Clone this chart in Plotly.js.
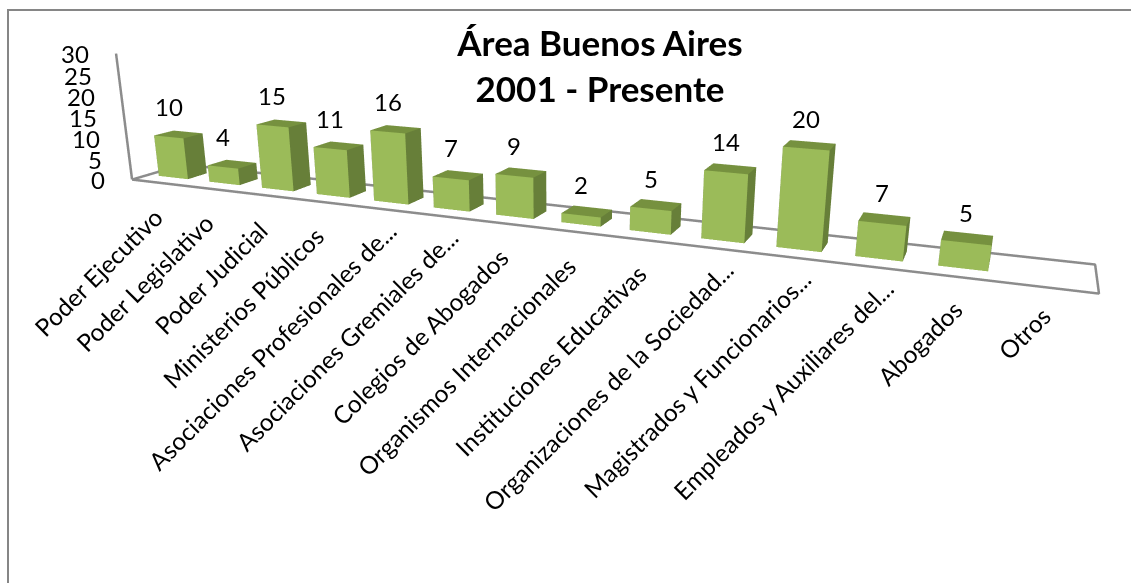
<!DOCTYPE html>
<html>
<head>
<meta charset="utf-8">
<script src="https://cdn.plot.ly/plotly-3.0.1.min.js"></script>
<style>
html,body{margin:0;padding:0;width:1131px;height:583px;overflow:hidden;background:#fff}
#chart{position:absolute;left:0;top:-177px;width:1166px;height:915px}
</style>
</head>
<body>
<div id="chart"></div>
<script>
var categories = ["Poder Ejecutivo","Poder Legislativo","Poder Judicial","Ministerios Públicos","Asociaciones Profesionales de...","Asociaciones Gremiales de...","Colegios de Abogados","Organismos Internacionales","Instituciones Educativas","Organizaciones de la Sociedad...","Magistrados y Funcionarios...","Empleados y Auxiliares del...","Abogados","Otros"];
var values = [10,4,15,11,16,7,9,2,5,14,20,7,5,null];
var zTicks = [0,5,10,15,20,25,30];

var W=1166,H=915,OX=0,OY=177;
function px(x){return (x+OX)/W;}
function py(y){return 1-(y+OY)/H;}

var FRONT='#9BBB59',SIDE='#677F39',TOP='#76913F',GRID='#8C8C8C';
var BAR=0.58, Y0=0.31, Y1=0.69;
var mx=[],my=[],mz=[],mi=[],mj=[],mk=[],mc=[];
function quad(a,b,c,d,col){mi.push(a,a);mj.push(b,c);mk.push(c,d);mc.push(col,col);}
values.forEach(function(v,n){
  if(v===null)return;
  var c=n+0.5,x0=c-BAR/2,x1=c+BAR/2,b=mx.length;
  [[x0,Y0,0],[x1,Y0,0],[x1,Y1,0],[x0,Y1,0],[x0,Y0,v],[x1,Y0,v],[x1,Y1,v],[x0,Y1,v]].forEach(function(p){mx.push(p[0]);my.push(p[1]);mz.push(p[2]);});
  quad(b,b+1,b+5,b+4,FRONT);
  quad(b+1,b+2,b+6,b+5,SIDE);
  quad(b+4,b+5,b+6,b+7,TOP);
  quad(b,b+3,b+7,b+4,SIDE);
  quad(b+3,b+2,b+6,b+7,SIDE);
});
var n=categories.length;
var traces=[
 {type:'scatter3d',mode:'lines',x:[0,n,n,0,0],y:[0,0,1,1,0],z:[0,0,0,0,0],line:{color:GRID,width:5},hoverinfo:'skip',showlegend:false},
 {type:'scatter3d',mode:'lines',x:[0,0],y:[0,0],z:[0,30],line:{color:GRID,width:5},hoverinfo:'skip',showlegend:false},
 {type:'mesh3d',x:mx,y:my,z:mz,i:mi,j:mj,k:mk,facecolor:mc,flatshading:true,lighting:{ambient:1,diffuse:0,specular:0,roughness:1,fresnel:0},hoverinfo:'skip',showscale:false}
];
var F='Lato, "Open Sans", sans-serif';
var anns=[];
zTicks.forEach(function(t){anns.push({x:0,y:0,z:t,text:String(t),showarrow:false,xanchor:'right',yanchor:'middle',xshift:-25,font:{family:F,size:24,color:'#000'}});});
values.forEach(function(v,i){if(v!==null)anns.push({x:i+0.5,y:0.31,z:v,text:String(v),showarrow:false,xanchor:'center',yanchor:'bottom',yshift:14,font:{family:F,size:24,color:'#000'}});});
categories.forEach(function(c,i){
  var cut=c.slice(-3)==='...';
  var tail=i>=12?(i-11)*3:0;
  anns.push({x:i+0.5,y:0,z:0,text:c,showarrow:false,textangle:-45,xanchor:'right',yanchor:'top',xshift:(cut?27:13)-tail,yshift:(cut?-4:-17)+tail,font:{family:F,size:24.4,color:'#000'}});
});

var layout={
 width:W,height:H,margin:{l:0,r:0,t:0,b:0},paper_bgcolor:'#fff',showlegend:false,
 title:{text:'<b>Área Buenos Aires<br>2001 - Presente</b>',x:px(600),xanchor:'center',y:py(56),yanchor:'top',font:{family:F,size:35,color:'#000'}},
 shapes:[{type:'rect',xref:'paper',yref:'paper',x0:px(8),x1:px(1150),y0:py(10),y1:py(600),line:{color:'#868686',width:2},layer:'above'}],
 scene:{
  domain:{x:[0,1],y:[0,1]},bgcolor:'rgba(0,0,0,0)',
  aspectmode:'manual',aspectratio:{x:.8018,y:.067,z:.1126},
  camera:{eye:{x:.3389,y:-.7897,z:.1802},center:{x:.0595,y:-.0852,z:-.0761},up:{x:-.1246,y:.2952,z:.9473},projection:{type:'perspective'}},
  xaxis:{visible:false,range:[0,n]},yaxis:{visible:false,range:[0,1]},zaxis:{visible:false,range:[0,30]},
  annotations:anns
 }
};
Plotly.newPlot('chart',traces,layout,{displayModeBar:false});
</script>
</body>
</html>
